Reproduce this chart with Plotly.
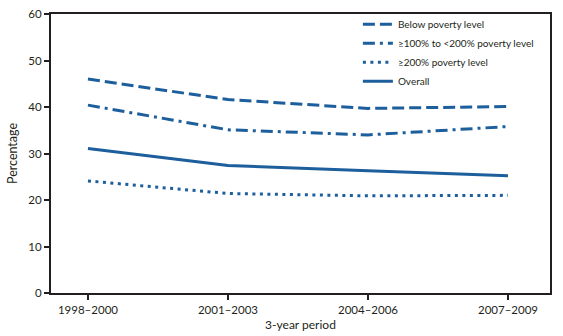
import plotly.graph_objects as go

periods = ["1998–2000", "2001–2003", "2004–2006", "2007–2009"]
below_poverty = [46.0, 41.6, 39.7, 40.1]
pov_100_200 = [40.4, 35.1, 34.0, 35.8]
pov_200_plus = [24.1, 21.4, 20.9, 21.0]
overall = [31.1, 27.4, 26.3, 25.2]

series_names = [
    "Below poverty level",
    "≥100% to <200% poverty level",
    "≥200% poverty level",
    "Overall",
]

BLUE = "#1d5e9c"
INK = "#231f20"
FONT = "Lato, Open Sans, sans-serif"

styles = [
    (below_poverty, "12px,5px"),
    (pov_100_200, "12px,5px,3px,5px"),
    (pov_200_plus, "3px,4.5px"),
    (overall, "solid"),
]

fig = go.Figure()
for name, (vals, dash) in zip(series_names, styles):
    fig.add_trace(go.Scatter(
        x=periods, y=vals, name=name, mode="lines",
        line=dict(color=BLUE, width=3, dash=dash),
    ))

fig.update_layout(
    width=563, height=336,
    margin=dict(l=51, r=13, t=14, b=43, autoexpand=False),
    paper_bgcolor="white", plot_bgcolor="white",
    font=dict(family=FONT, size=11, color=INK),
    legend=dict(
        x=0.615, y=1.015, xanchor="left", yanchor="top",
        bgcolor="rgba(0,0,0,0)", font=dict(size=10, color=INK),
        tracegroupgap=0,
    ),
    xaxis=dict(
        type="category", range=[-0.264, 3.3], automargin=False,
        showline=True, linecolor=INK, linewidth=2, mirror=True,
        ticks="outside", ticklen=5, tickwidth=2, tickcolor=INK,
        showgrid=False, zeroline=False,
        title=dict(text="3-year period", standoff=6, font=dict(size=12)),
        tickfont=dict(size=11.5),
    ),
    yaxis=dict(
        range=[0, 60], dtick=10, automargin=False,
        showline=True, linecolor=INK, linewidth=2, mirror=True,
        ticks="outside", ticklen=5, tickwidth=2, tickcolor=INK,
        showgrid=False, zeroline=False,
        title=dict(text="Percentage", standoff=8, font=dict(size=12.5)),
        tickfont=dict(size=11.5),
    ),
)

fig.write_html("out.html")
